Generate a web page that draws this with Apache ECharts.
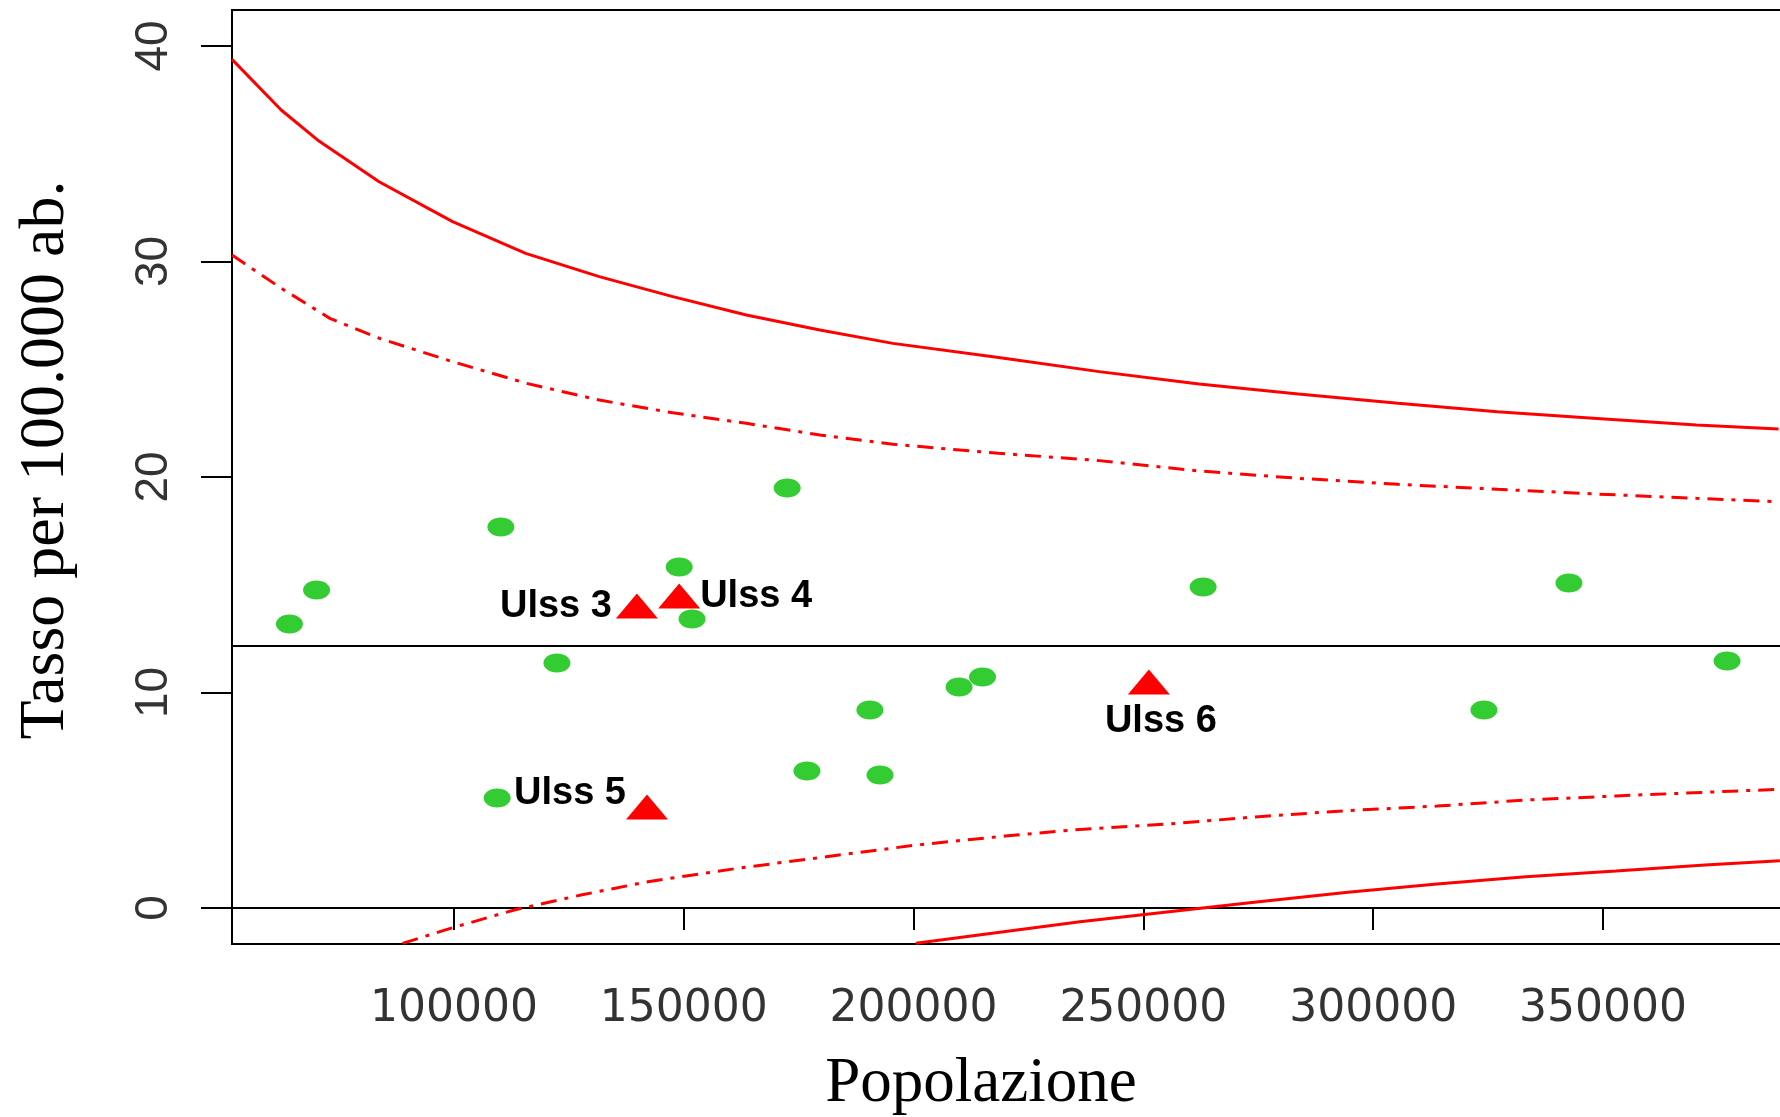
<!DOCTYPE html>
<html><head><meta charset="utf-8">
<script src="https://cdn.jsdelivr.net/npm/echarts@6/dist/echarts.min.js"></script>
<style>html,body{margin:0;padding:0;background:#fff}#c{width:1780px;height:1117px}</style>
</head><body><div id="c"></div>
<script>
// ---- tick labels ----
const xTicks = [100000, 150000, 200000, 250000, 300000, 350000];
const yTicks = [0, 10, 20, 30, 40];

// ---- all ULSS (green dots) ----
const ulssPop  = [64200, 70100, 110200, 122400, 149000, 151800, 172500, 190500, 176800, 192700, 109400, 209900, 215000, 263000, 324100, 342600, 377000];
const ulssRate = [13.18, 14.76, 17.68, 11.37, 15.82, 13.41, 19.49, 9.19, 6.36, 6.17, 5.10, 10.26, 10.72, 14.90, 9.19, 15.08, 11.46];

// ---- highlighted ULSS (red triangles) ----
const hlNames = ["Ulss 3", "Ulss 4", "Ulss 5", "Ulss 6"];
const hlPop   = [139800, 149000, 142000, 251200];
const hlRate  = [14.01, 14.48, 4.69, 10.49];

// ---- regional mean rate ----
const meanRate = 12.16;

// ---- control limits ----
const up998Pop  = [51700, 62400, 70300, 83700, 99700, 115600, 131600, 147600, 163600, 179600, 195500, 218500, 240400, 262100, 283700, 305400, 327000, 348700, 370300, 388200];
const up998Rate = [39.38, 37.03, 35.64, 33.70, 31.85, 30.38, 29.30, 28.37, 27.52, 26.82, 26.20, 25.55, 24.89, 24.32, 23.85, 23.42, 23.03, 22.72, 22.41, 22.23];
const up95Pop   = [51700, 62400, 73000, 83700, 99700, 115700, 131600, 147600, 163600, 179600, 195500, 218500, 240400, 262100, 283700, 305400, 327000, 348700, 370300, 388200];
const up95Rate  = [30.30, 28.76, 27.36, 26.44, 25.35, 24.35, 23.57, 22.98, 22.49, 21.95, 21.52, 21.10, 20.76, 20.28, 19.94, 19.66, 19.43, 19.21, 19.01, 18.85];
const lo95Pop   = [88800, 98500, 113100, 127600, 142200, 161600, 181000, 200500, 219900, 234500, 255600, 275100, 294500, 313900, 333200, 352800, 372200, 388500];
const lo95Rate  = [-1.64, -0.99, -0.09, 0.60, 1.22, 1.84, 2.38, 2.92, 3.34, 3.62, 3.90, 4.24, 4.52, 4.73, 5.01, 5.20, 5.37, 5.51];
const lo998Pop  = [200500, 236200, 255600, 275100, 294500, 313900, 333200, 352800, 372200, 388500];
const lo998Rate = [-1.64, -0.64, -0.17, 0.29, 0.73, 1.11, 1.45, 1.72, 2.00, 2.19];

const xTitle = "Popolazione";
const yTitle = "Tasso per 100.000 ab.";

const zip = (a, b) => a.map((v, i) => [v, b[i]]);
const ELLIPSE = 'path://M1,0.5 C1,0.776 0.776,1 0.5,1 C0.224,1 0,0.776 0,0.5 C0,0.224 0.224,0 0.5,0 C0.776,0 1,0.224 1,0.5 Z';
const labelPos = {
  "Ulss 3": {position: 'left', distance: 4, offset: [0, 0]},
  "Ulss 4": {position: 'right', distance: 0, offset: [0, 1]},
  "Ulss 5": {position: 'left', distance: 0, offset: [0, -13]},
  "Ulss 6": {position: 'bottom', distance: 8, offset: [12, 0]}
};

const chart = echarts.init(document.getElementById('c'), null, {renderer: 'canvas'});
const redLine = (data, dashed) => ({
  type: 'line', data: data, symbol: 'none', smooth: false, silent: true, z: 2,
  lineStyle: {color: '#ff0000', width: 3, opacity: 1, type: dashed ? [16, 8, 4, 8] : 'solid'}
});

chart.setOption({
  animation: false,
  backgroundColor: '#ffffff',
  grid: {left: 232, top: 10, right: -10, bottom: 173, show: true, borderColor: '#000', borderWidth: 2,
         containLabel: false, outerBoundsMode: 'none'},
  xAxis: {
    type: 'value', min: 51700, max: 390700,
    splitLine: {show: false},
    axisLine: {lineStyle: {color: '#000', width: 2}},
    axisTick: {length: 22, lineStyle: {color: '#000', width: 2}, customValues: xTicks},
    axisLabel: {customValues: xTicks, formatter: v => String(v), margin: 44, fontFamily: 'DejaVu Sans', fontSize: 44, color: '#333'}
  },
  yAxis: {
    type: 'value', min: -1.67, max: 41.67,
    splitLine: {show: false},
    axisLine: {lineStyle: {color: '#000', width: 2}},
    axisTick: {length: 31, lineStyle: {color: '#000', width: 2}, customValues: yTicks},
    axisLabel: {customValues: yTicks, formatter: v => String(v), rotate: 90, margin: 55, fontFamily: 'Liberation Sans', fontSize: 46, color: '#333'}
  },
  graphic: [
    {type: 'text', x: 981, y: 1084, style: {text: xTitle, font: '63px "Liberation Serif"', fill: '#000', align: 'center', verticalAlign: 'middle'}},
    {type: 'text', x: 46, y: 460, rotation: Math.PI / 2, style: {text: yTitle, font: '64px "Liberation Serif"', fill: '#000', align: 'center', verticalAlign: 'middle'}}
  ],
  series: [
    redLine(zip(up998Pop, up998Rate), false),
    redLine(zip(up95Pop, up95Rate), true),
    redLine(zip(lo95Pop, lo95Rate), true),
    redLine(zip(lo998Pop, lo998Rate), false),
    {
      type: 'scatter', data: zip(ulssPop, ulssRate), symbol: ELLIPSE, symbolSize: [27, 19], z: 3,
      itemStyle: {color: '#33cc33', opacity: 1},
      markLine: {silent: true, symbol: 'none', label: {show: false},
        lineStyle: {color: '#000', width: 2, type: 'solid', opacity: 1}, data: [{yAxis: meanRate}]}
    },
    {
      type: 'scatter', symbol: 'triangle', symbolSize: [42, 25], z: 4,
      itemStyle: {color: '#ff0000', opacity: 1},
      data: hlNames.map((n, i) => ({
        name: n, value: [hlPop[i], hlRate[i]],
        label: Object.assign({show: true, formatter: '{b}', fontFamily: 'Liberation Sans', fontWeight: 'bold', fontSize: 38, color: '#000', opacity: 1}, labelPos[n])
      }))
    }
  ]
});
</script></body></html>
